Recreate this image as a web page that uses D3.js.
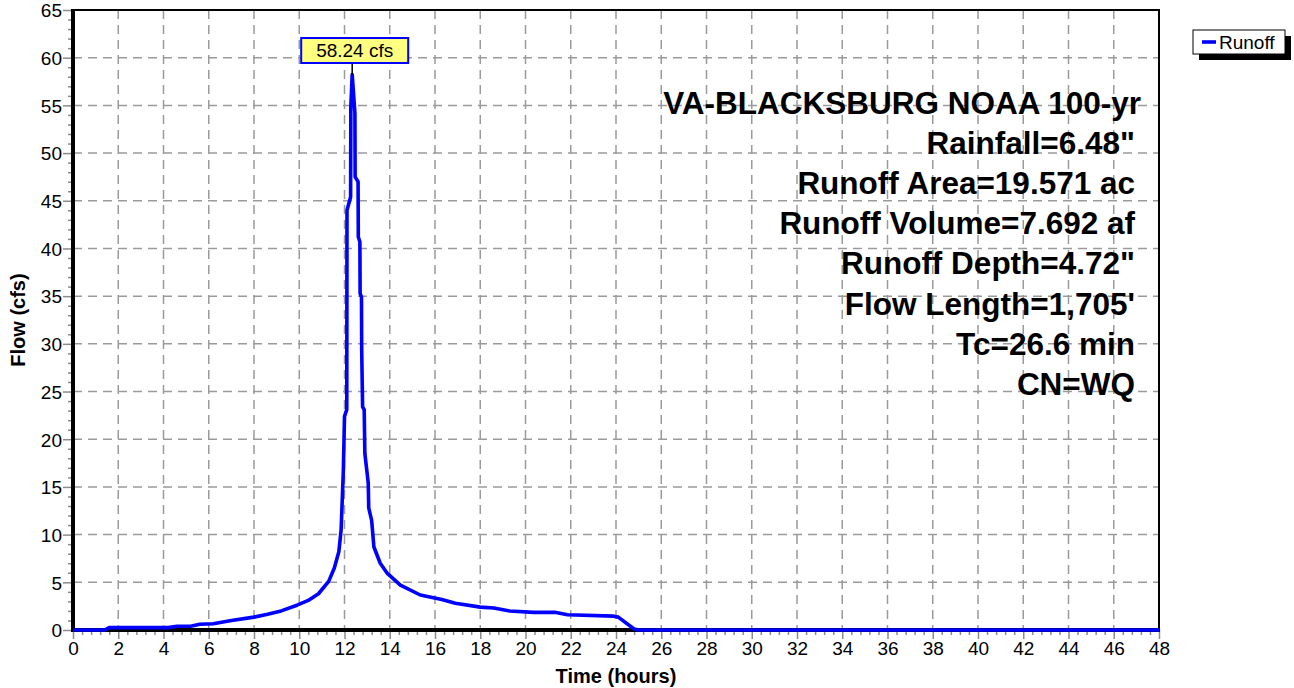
<!DOCTYPE html>
<html><head><meta charset="utf-8">
<script src="https://cdn.jsdelivr.net/npm/d3@7"></script>
<style>
body{margin:0;background:#fff}
svg{display:block}
text{font-family:"Liberation Sans",Arial,Helvetica,sans-serif}
</style>
</head><body>
<svg id="chart" width="1294" height="688"></svg>
<script>
// ---- data ----
const timeHours = [0, 1.4, 1.6, 4.2, 4.6, 5.2, 5.6, 6.2, 7.0, 8.0, 8.6, 9.2, 9.9, 10.4, 10.85, 11.3, 11.55, 11.75, 11.85, 11.9, 11.95, 12.0, 12.1, 12.11, 12.27, 12.28, 12.34, 12.46, 12.47, 12.6, 12.61, 12.68, 12.69, 12.75, 12.76, 12.8, 12.87, 12.9, 13.05, 13.07, 13.2, 13.3, 13.58, 13.88, 14.47, 15.35, 16.3, 16.9, 18.0, 18.6, 19.3, 20.35, 21.3, 21.85, 23.9, 24.1, 24.8, 25.0, 48];
const flowCfs   = [0, 0, 0.25, 0.25, 0.4, 0.4, 0.6, 0.65, 1.0, 1.35, 1.65, 2.0, 2.6, 3.1, 3.8, 5.1, 6.5, 8.2, 10.5, 13.6, 16.8, 22.4, 23.1, 44.0, 45.4, 54.9, 58.24, 54.2, 47.5, 47.0, 41.2, 40.7, 35.3, 34.9, 29.4, 23.4, 23.1, 18.5, 15.4, 12.8, 11.5, 8.7, 7.0, 5.97, 4.7, 3.67, 3.2, 2.8, 2.4, 2.3, 2.0, 1.85, 1.85, 1.6, 1.45, 1.35, 0.1, 0, 0];
const xTickValues = [0,2,4,6,8,10,12,14,16,18,20,22,24,26,28,30,32,34,36,38,40,42,44,46,48];
const yTickValues = [0,5,10,15,20,25,30,35,40,45,50,55,60,65];
const seriesName = "Runoff";
const peakUnits = "cfs";
const xTitle = "Time  (hours)";
const yTitle = "Flow  (cfs)";
const infoLines = [
  "VA-BLACKSBURG NOAA 100-yr",
  "Rainfall=6.48\"",
  "Runoff Area=19.571 ac",
  "Runoff Volume=7.692 af",
  "Runoff Depth=4.72\"",
  "Flow Length=1,705'",
  "Tc=26.6 min",
  "CN=WQ"
];

// ---- layout ----
const L = 73, R = 1159, T = 10, B = 630;
const svg = d3.select("#chart");
const x = d3.scaleLinear().domain([0,48]).range([L,R]);
const y = d3.scaleLinear().domain([0,65]).range([B,T]);
const FONT = 19;
const TITLEFONT = 20;
const grey = "#8c8c8c";

// grid
const g = svg.append("g");
g.selectAll("line.vg").data(xTickValues.slice(1,-1)).enter().append("line")
  .attr("x1", d=>x(d)).attr("x2", d=>x(d)).attr("y1", T).attr("y2", B)
  .attr("stroke", "#9a9a9a").attr("stroke-width", 1.5).attr("stroke-dasharray", "9,6");
g.selectAll("line.hg").data(yTickValues.slice(1,-1)).enter().append("line")
  .attr("y1", d=>y(d)).attr("y2", d=>y(d)).attr("x1", L).attr("x2", R)
  .attr("stroke", "#9a9a9a").attr("stroke-width", 1.5).attr("stroke-dasharray", "9,6");

// minor ticks
const xMinor = d3.range(0, 48.001, 0.4).filter(v => Math.abs(v/2 - Math.round(v/2)) > 0.01);
const yMinor = d3.range(0, 65.001, 1).filter(v => v % 5 !== 0);
const xMinorAxis = d3.axisBottom(x).tickValues(xMinor).tickSize(5).tickFormat("");
const yMinorAxis = d3.axisLeft(y).tickValues(yMinor).tickSize(5).tickFormat("");
const xm = svg.append("g").attr("transform", `translate(0,${B})`).call(xMinorAxis);
const ym = svg.append("g").attr("transform", `translate(${L},0)`).call(yMinorAxis);
[xm, ym].forEach(a => { a.select(".domain").remove(); a.selectAll("line").attr("stroke", grey).attr("stroke-width", 1.5); });

// major axes
const xAxis = d3.axisBottom(x).tickValues(xTickValues).tickSize(9).tickPadding(3).tickFormat(d3.format("d"));
const yAxis = d3.axisLeft(y).tickValues(yTickValues).tickSize(10).tickPadding(1).tickFormat(d3.format("d"));
const xa = svg.append("g").attr("transform", `translate(0,${B})`).call(xAxis);
const ya = svg.append("g").attr("transform", `translate(${L},0)`).call(yAxis);
[xa, ya].forEach(a => {
  a.select(".domain").remove();
  a.selectAll("line").attr("stroke", grey).attr("stroke-width", 1.5);
  a.selectAll("text").attr("fill", "#000").style("font-size", FONT + "px").style("font-family", '"Liberation Sans",Arial,sans-serif');
});
ya.selectAll("text").attr("dy", "0.36em");

// frame
svg.append("line").attr("x1", L-1).attr("x2", R+1).attr("y1", T).attr("y2", T).attr("stroke", "#000").attr("stroke-width", 2);
svg.append("line").attr("x1", R).attr("x2", R).attr("y1", T).attr("y2", B).attr("stroke", "#000").attr("stroke-width", 2);
svg.append("line").attr("x1", L).attr("x2", L).attr("y1", T-1).attr("y2", B+2).attr("stroke", "#000").attr("stroke-width", 4);
svg.append("line").attr("x1", L-2).attr("x2", R+1).attr("y1", B).attr("y2", B).attr("stroke", "#000").attr("stroke-width", 4);

// info text
const info = svg.append("g");
info.selectAll("text").data(infoLines).enter().append("text")
  .attr("x", (d,i) => i === 0 ? 1141 : 1135).attr("y", (d,i) => 114 + i*40.1)
  .attr("text-anchor", "end").attr("font-weight", "bold").style("font-size", "31.5px")
  .attr("fill", "#000").text(d => d);

// series line
const pts = timeHours.map((t,i) => [t, flowCfs[i]]);
svg.append("path").datum(pts)
  .attr("fill", "none").attr("stroke", "#0000ff").attr("stroke-width", 3.6)
  .attr("stroke-linejoin", "round")
  .attr("d", d3.line().x(d => x(d[0])).y(d => y(d[1])));

// peak label
const peakIdx = d3.maxIndex(flowCfs);
const px = x(timeHours[peakIdx]), py = y(flowCfs[peakIdx]);
const lbl = flowCfs[peakIdx].toFixed(2) + " " + peakUnits;
const boxW = 107, boxH = 25, boxTop = 38;
svg.append("line").attr("x1", px).attr("x2", px).attr("y1", boxTop + boxH).attr("y2", py)
  .attr("stroke", "#000").attr("stroke-width", 1.5);
svg.append("rect").attr("x", px - 51).attr("y", boxTop).attr("width", boxW).attr("height", boxH)
  .attr("fill", "#ffff80").attr("stroke", "#0000ff").attr("stroke-width", 2);
svg.append("text").attr("x", px - 51 + boxW/2).attr("y", boxTop + boxH/2).attr("dy", "0.36em")
  .attr("text-anchor", "middle").style("font-size", FONT + "px").attr("fill", "#000").text(lbl);

// axis titles
svg.append("text").attr("x", (L+R)/2).attr("y", 683).attr("text-anchor", "middle")
  .attr("font-weight", "bold").style("font-size", TITLEFONT + "px").text(xTitle);
svg.append("text").attr("transform", `translate(25,${(T+B)/2}) rotate(-90)`).attr("text-anchor", "middle")
  .attr("font-weight", "bold").style("font-size", TITLEFONT + "px").text(yTitle);

// legend
const lg = svg.append("g");
const lx = 1193, ly = 30, lw = 92, lh = 24;
lg.append("rect").attr("x", lx+6).attr("y", ly+6).attr("width", lw).attr("height", lh).attr("fill", "#000");
lg.append("rect").attr("x", lx).attr("y", ly).attr("width", lw).attr("height", lh).attr("fill", "#fff").attr("stroke", "#000").attr("stroke-width", 1);
lg.append("line").attr("x1", lx+9).attr("x2", lx+23).attr("y1", ly+lh/2).attr("y2", ly+lh/2)
  .attr("stroke", "#0000ff").attr("stroke-width", 3.6);
lg.append("text").attr("x", lx+26).attr("y", ly+lh/2).attr("dy", "0.36em").style("font-size", FONT + "px")
  .attr("fill", "#000").text(seriesName);
</script>
</body></html>
